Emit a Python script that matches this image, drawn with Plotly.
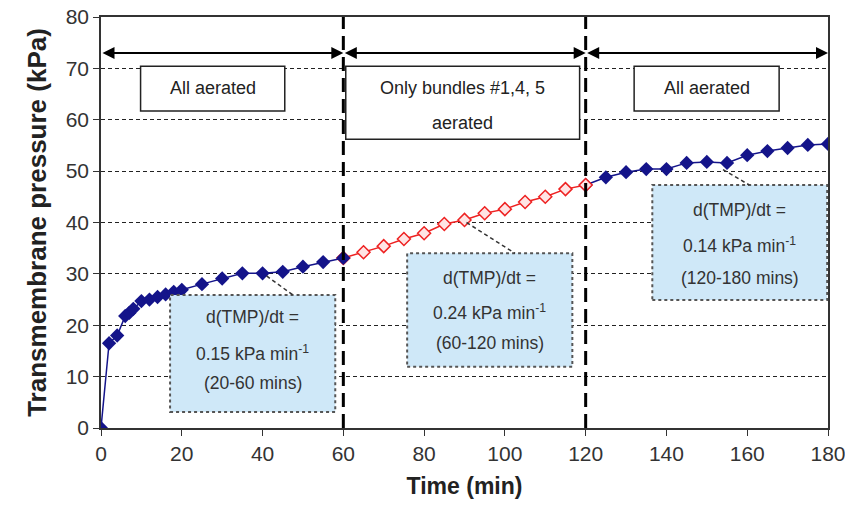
import plotly.graph_objects as go

# ---- data ----
t_all1 = [0, 2, 4, 6, 7, 8, 10, 12, 14, 16, 18, 20, 25, 30, 35, 40, 45, 50, 55, 60]
p_all1 = [0, 16.5, 18, 21.8, 22.4, 23.2, 24.7, 25, 25.5, 26, 26.5, 26.9, 28, 29.1, 30.1, 30.1, 30.4, 31.4, 32.3, 33.1]

t_part = [60, 65, 70, 75, 80, 85, 90, 95, 100, 105, 110, 115, 120]
p_part = [33.1, 34.2, 35.4, 36.8, 37.9, 39.7, 40.5, 41.8, 42.6, 44.0, 45.0, 46.5, 47.3]

t_all2 = [120, 125, 130, 135, 140, 145, 150, 155, 160, 165, 170, 175, 180]
p_all2 = [47.3, 48.8, 49.8, 50.4, 50.4, 51.6, 51.8, 51.6, 53.1, 53.9, 54.5, 55.1, 55.3]

x_ticks = [0, 20, 40, 60, 80, 100, 120, 140, 160, 180]
y_ticks = [0, 10, 20, 30, 40, 50, 60, 70, 80]

phase_bounds = [0, 60, 120, 180]
phase_labels = ["All aerated", "Only bundles #1,4, 5<br>aerated", "All aerated"]
rate_lines = [
    ["d(TMP)/dt =", "0.15 kPa min<sup>-1</sup>", "(20-60 mins)"],
    ["d(TMP)/dt =", "0.24 kPa min<sup>-1</sup>", "(60-120 mins)"],
    ["d(TMP)/dt =", "0.14 kPa min<sup>-1</sup>", "(120-180 mins)"],
]

FONT = "Liberation Sans, Arial, sans-serif"
BLUE = "#14148a"
RED = "#ee2222"

fig = go.Figure()
fig.add_trace(go.Scatter(x=t_all2, y=p_all2, mode="lines+markers",
                         line=dict(color=BLUE, width=1.5),
                         marker=dict(symbol="diamond", size=11, color=BLUE)))
fig.add_trace(go.Scatter(x=t_part, y=p_part, mode="lines+markers",
                         line=dict(color=RED, width=1.5),
                         marker=dict(symbol="diamond", size=10, color="#ffe4e4",
                                     line=dict(color=RED, width=1.5))))
fig.add_trace(go.Scatter(x=t_all1, y=p_all1, mode="lines+markers",
                         line=dict(color=BLUE, width=1.5),
                         marker=dict(symbol="diamond", size=11, color=BLUE)))

shapes = []
# vertical phase separators
for xb in phase_bounds[1:-1]:
    shapes.append(dict(type="line", xref="x", yref="y", x0=xb, x1=xb, y0=0, y1=80,
                       line=dict(color="black", width=3, dash="14px,7px"), layer="above"))

annotations = []
# double arrows
for a, b in zip(phase_bounds[:-1], phase_bounds[1:]):
    annotations.append(dict(x=b, y=73, ax=a, ay=73, xref="x", yref="y", axref="x", ayref="y",
                            text="", showarrow=True, arrowhead=2, arrowsize=1.2,
                            arrowwidth=2, arrowside="end+start", arrowcolor="black"))

# phase label boxes
phase_boxes = [(9.8, 45.5, 61.7, 70.4), (60.6, 118.5, 56.2, 70.4), (132, 167.9, 61.7, 70.4)]
for (x0, x1, y0, y1), lab in zip(phase_boxes, phase_labels):
    shapes.append(dict(type="rect", xref="x", yref="y", x0=x0, x1=x1, y0=y0, y1=y1,
                       fillcolor="white", line=dict(color="#222222", width=1.5), layer="above"))
for (x0, x1, y0, y1), lab in zip(phase_boxes, phase_labels):
    parts = lab.split("<br>")
    ys = [66.1, 59.4][:len(parts)]
    for yy, tx in zip(ys, parts):
        annotations.append(dict(x=(x0 + x1) / 2, y=yy, xref="x", yref="y", text=tx,
                                showarrow=False, font=dict(family=FONT, size=18, color="#222222")))

# rate boxes
rate_boxes = [(17.1, 58.0, 3.1, 25.9), (75.8, 116.7, 11.9, 34.0), (136.5, 179.8, 24.9, 47.3)]
rate_text_y = [(21.7, 14.6, 8.8), (29.2, 22.6, 16.5), (42.4, 35.6, 29.2)]
leaders = [((41, 29.6), (47.5, 25.9)), ((90.5, 40.0), (102.5, 34.0)), ((154, 50.3), (160.5, 47.3))]
for (x0, x1, y0, y1), ys, lines, ((lx0, ly0), (lx1, ly1)) in zip(rate_boxes, rate_text_y, rate_lines, leaders):
    shapes.append(dict(type="rect", xref="x", yref="y", x0=x0, x1=x1, y0=y0, y1=y1,
                       fillcolor="#cfe8f8", line=dict(color="#555555", width=2, dash="dot"), layer="above"))
    shapes.append(dict(type="line", xref="x", yref="y", x0=lx0, y0=ly0, x1=lx1, y1=ly1,
                       line=dict(color="#333333", width=1.5, dash="4px,3px"), layer="above"))
    for yy, tx in zip(ys, lines):
        annotations.append(dict(x=(x0 + x1) / 2, y=yy, xref="x", yref="y", text=tx,
                                showarrow=False, font=dict(family=FONT, size=17.5, color="#333333")))

fig.update_layout(
    width=845, height=512,
    margin=dict(l=101, r=17, t=17, b=84),
    paper_bgcolor="white", plot_bgcolor="white",
    showlegend=False,
    shapes=shapes, annotations=annotations,
    font=dict(family=FONT, color="#333333"),
)
fig.update_xaxes(range=[0, 180], tickvals=x_ticks, ticktext=[str(v) for v in x_ticks],
                 showgrid=False, zeroline=False, automargin=False, ticklabeloverflow="allow",
                 showline=True, linecolor="#333333", linewidth=1.5, mirror=True,
                 ticks="outside", ticklen=6, tickcolor="#333333",
                 tickfont=dict(family=FONT, size=21, color="#333333"),
                 title=dict(text="<b>Time (min)</b>", font=dict(family=FONT, size=23, color="#222222"),
                            standoff=14))
fig.update_yaxes(range=[0, 80], tickvals=y_ticks, ticktext=[str(v) for v in y_ticks],
                 showgrid=True, gridcolor="#222222", gridwidth=1, griddash="4px,3px",
                 zeroline=False, automargin=False, ticklabeloverflow="allow",
                 showline=True, linecolor="#333333", linewidth=1.5, mirror=True,
                 ticks="outside", ticklen=6, tickcolor="#333333",
                 tickfont=dict(family=FONT, size=21, color="#333333"),
                 title=dict(text="<b>Transmembrane pressure (kPa)</b>",
                            font=dict(family=FONT, size=26, color="#222222"), standoff=12))

fig.write_html("out.html")
